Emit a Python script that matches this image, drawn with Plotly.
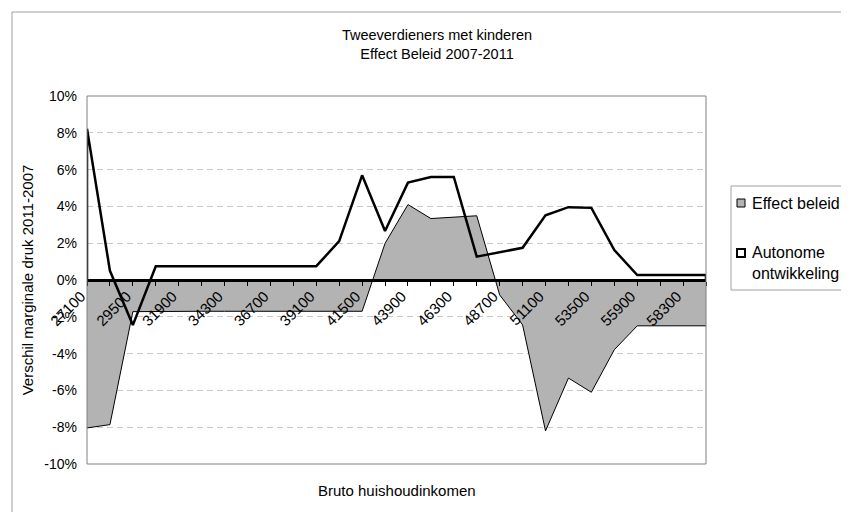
import plotly.graph_objects as go

# ---- data ----
inkomen = ["27100", "28300", "29500", "30700", "31900", "33100", "34300", "35500",
           "36700", "37900", "39100", "40300", "41500", "42700", "43900", "45100",
           "46300", "47500", "48700", "49900", "51100", "52300", "53500", "54700",
           "55900", "57100", "58300", "59500"]
effect_beleid = [-8.04, -7.86, -1.72, -1.70, -1.70, -1.70, -1.70, -1.70, -1.70, -1.70,
                 -1.70, -1.70, -1.70, 1.99, 4.10, 3.34, 3.43, 3.49, -0.81, -2.44,
                 -8.20, -5.33, -6.10, -3.79, -2.49, -2.49, -2.49, -2.49]
autonome = [8.22, 0.50, -2.45, 0.75, 0.75, 0.75, 0.75, 0.75, 0.75, 0.75,
            0.75, 2.11, 5.69, 2.66, 5.29, 5.60, 5.60, 1.27, 1.50, 1.75,
            3.52, 3.96, 3.92, 1.63, 0.27, 0.27, 0.27, 0.27]
tick_labels = [c if i % 2 == 0 else "" for i, c in enumerate(inkomen)]
y_ticks = [-10, -8, -6, -4, -2, 0, 2, 4, 6, 8, 10]

# ---- geometry (screen pixels; the page body has an 8px margin) ----
OFF = 8
W, H = 849 - OFF, 512 - OFF
SL, SR, ST, SB = 87, 706, 96, 464          # plot area in screen pixels
L, R, T, B = SL - OFF, SR - OFF, ST - OFF, SB - OFF


def px(sx):
    return (sx - SL) / (SR - SL)


def py(sy):
    return (SB - sy) / (SB - ST)


FONT = "Liberation Sans, Arial, sans-serif"

fig = go.Figure()

# Effect beleid: grey area
fig.add_trace(go.Scatter(
    x=inkomen, y=effect_beleid, mode="lines", fill="tozeroy",
    fillcolor="#b3b3b3", line=dict(color="#000000", width=1),
    name="Effect beleid", showlegend=False, hoverinfo="skip"))

# Autonome ontwikkeling: area outline without fill (closed to the baseline)
auto_x = [inkomen[0]] + inkomen + [inkomen[-1]]
auto_y = [0] + autonome + [0]
fig.add_trace(go.Scatter(
    x=auto_x, y=auto_y, mode="lines",
    line=dict(color="#000000", width=2.5),
    name="Autonome ontwikkeling", showlegend=False, hoverinfo="skip"))

shapes = []
# plot area border
shapes.append(dict(type="rect", xref="paper", yref="paper", x0=0, x1=1, y0=0, y1=1,
                   line=dict(color="#808080", width=1), layer="above"))
# chart area border
shapes.append(dict(type="rect", xref="paper", yref="paper",
                   x0=px(12), x1=px(900), y0=py(560), y1=py(12),
                   line=dict(color="#a0a0a0", width=1), layer="above"))
# legend box
shapes.append(dict(type="rect", xref="paper", yref="paper",
                   x0=px(731), x1=px(845), y0=py(290), y1=py(186),
                   line=dict(color="#a0a0a0", width=1), fillcolor="white", layer="above"))
# legend symbols
shapes.append(dict(type="rect", xref="paper", yref="paper",
                   x0=px(737), x1=px(745), y0=py(207), y1=py(199),
                   line=dict(color="#000000", width=1), fillcolor="#b3b3b3", layer="above"))
shapes.append(dict(type="rect", xref="paper", yref="paper",
                   x0=px(737), x1=px(745), y0=py(257), y1=py(249),
                   line=dict(color="#000000", width=2), fillcolor="white", layer="above"))

annotations = [
    dict(text="Effect beleid", xref="paper", yref="paper", x=px(750), y=py(203),
         xanchor="left", yanchor="middle", showarrow=False,
         font=dict(family=FONT, size=16, color="#000")),
    dict(text="Autonome<br>ontwikkeling", xref="paper", yref="paper", x=px(750), y=py(263),
         xanchor="left", yanchor="middle", align="left", showarrow=False,
         font=dict(family=FONT, size=16, color="#000")),
    dict(text="Bruto huishoudinkomen", xref="paper", yref="paper", x=0.5, y=py(490),
         xanchor="center", yanchor="middle", showarrow=False,
         font=dict(family=FONT, size=15, color="#000")),
]

fig.update_layout(
    width=W, height=H,
    margin=dict(l=L, r=W - R, t=T, b=H - B, autoexpand=False),
    paper_bgcolor="white", plot_bgcolor="white",
    font=dict(family=FONT, size=14, color="#000"),
    title=dict(text="Tweeverdieners met kinderen<br>Effect Beleid 2007-2011",
               x=(437 - OFF) / W, xanchor="center", xref="container",
               y=1 - (40 - OFF) / H, yanchor="top", yref="container",
               font=dict(family=FONT, size=14.5, color="#000")),
    showlegend=False,
    shapes=shapes,
    annotations=annotations,
)

fig.update_xaxes(
    type="category", categoryorder="array", categoryarray=inkomen,
    range=[0, len(inkomen) - 1],
    anchor="free", position=0.5,
    showline=True, linecolor="#000000", linewidth=2.5,
    ticks="outside", ticklen=4, tickcolor="#000000", tickwidth=1,
    tickmode="array", tickvals=inkomen, ticktext=tick_labels,
    tickangle=-45, ticklabelshift=-6, ticklabelstandoff=-4,
    tickfont=dict(family=FONT, size=15, color="#000"),
    showgrid=False, zeroline=False, automargin=False,
)

fig.update_yaxes(
    range=[-10, 10], tickmode="array", tickvals=y_ticks,
    ticktext=[f"{v}%" for v in y_ticks],
    showgrid=True, gridcolor="#c8c8c8", griddash="6px,4px", gridwidth=1,
    zeroline=False, showline=False, ticks="", ticklabelstandoff=9,
    tickfont=dict(family=FONT, size=14, color="#000"),
    title=dict(text="Verschil marginale druk 2011-2007", standoff=7,
               font=dict(family=FONT, size=15, color="#000")),
    automargin=False,
)

fig.write_html("out.html")
